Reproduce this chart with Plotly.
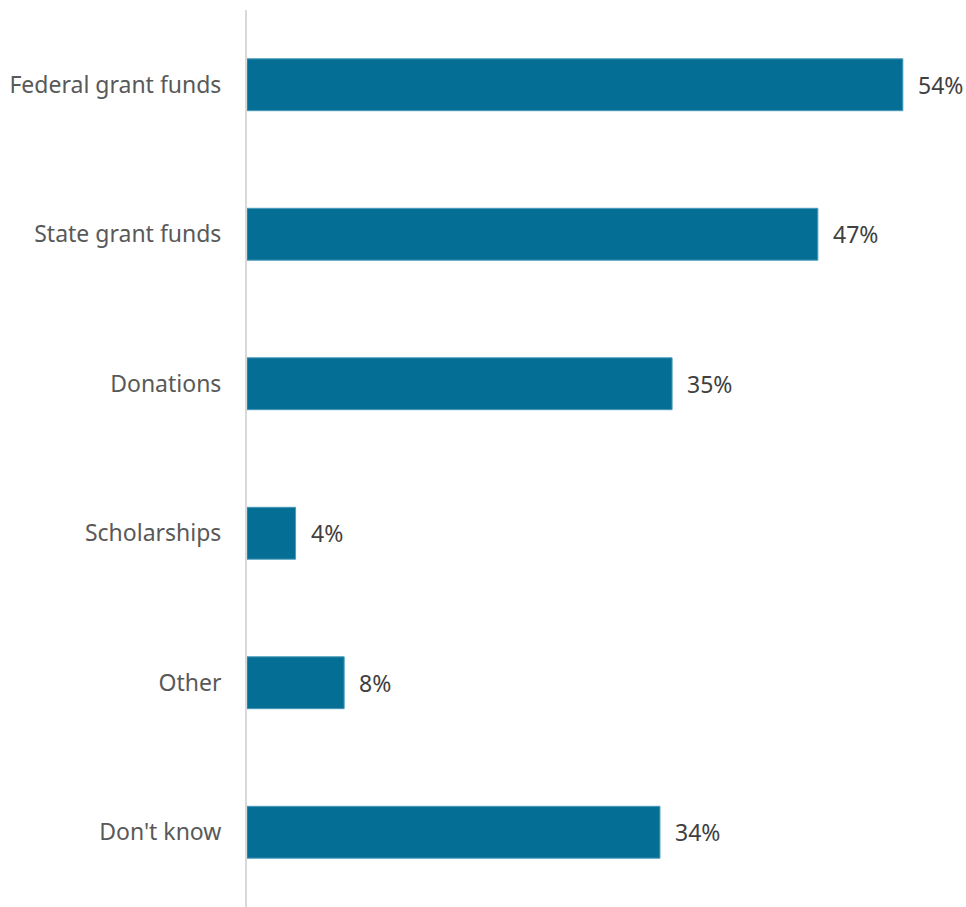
import plotly.graph_objects as go

# Funding sources and share of respondents (%)
categories = ["Federal grant funds", "State grant funds", "Donations",
              "Scholarships", "Other", "Don't know"]
values = [54, 47, 35, 4, 8, 34]
value_labels = ["54%", "47%", "35%", "4%", "8%", "34%"]

BAR_COLOR = "#046E94"
TEXT_COLOR = "#595959"
FONT = "Noto Sans, Open Sans, sans-serif"

fig = go.Figure(
    go.Bar(
        x=values,
        y=categories,
        orientation="h",
        marker=dict(color=BAR_COLOR, line=dict(color="#4A9CBB", width=1)),
        hoverinfo="skip",
    )
)

for cat, v, lab in zip(categories, values, value_labels):
    fig.add_annotation(
        x=v, y=cat, text=lab, showarrow=False,
        xanchor="left", xshift=13,
        font=dict(family=FONT, size=23, color="#404040"),
    )

fig.update_layout(
    width=966, height=907,
    margin=dict(l=247, r=0, t=10, b=0),
    paper_bgcolor="white", plot_bgcolor="white",
    bargap=0.653,
    showlegend=False,
    font=dict(family=FONT, size=23, color=TEXT_COLOR),
)
fig.update_xaxes(range=[0, 59.2], visible=False, showgrid=False, zeroline=False)
fig.update_yaxes(
    autorange="reversed",
    showline=True, linecolor="#D9D9D9", linewidth=2,
    showgrid=False, zeroline=False, ticks="",
    ticklabelstandoff=19,
    tickfont=dict(family=FONT, size=23, color=TEXT_COLOR),
)

fig.write_html("out.html")
